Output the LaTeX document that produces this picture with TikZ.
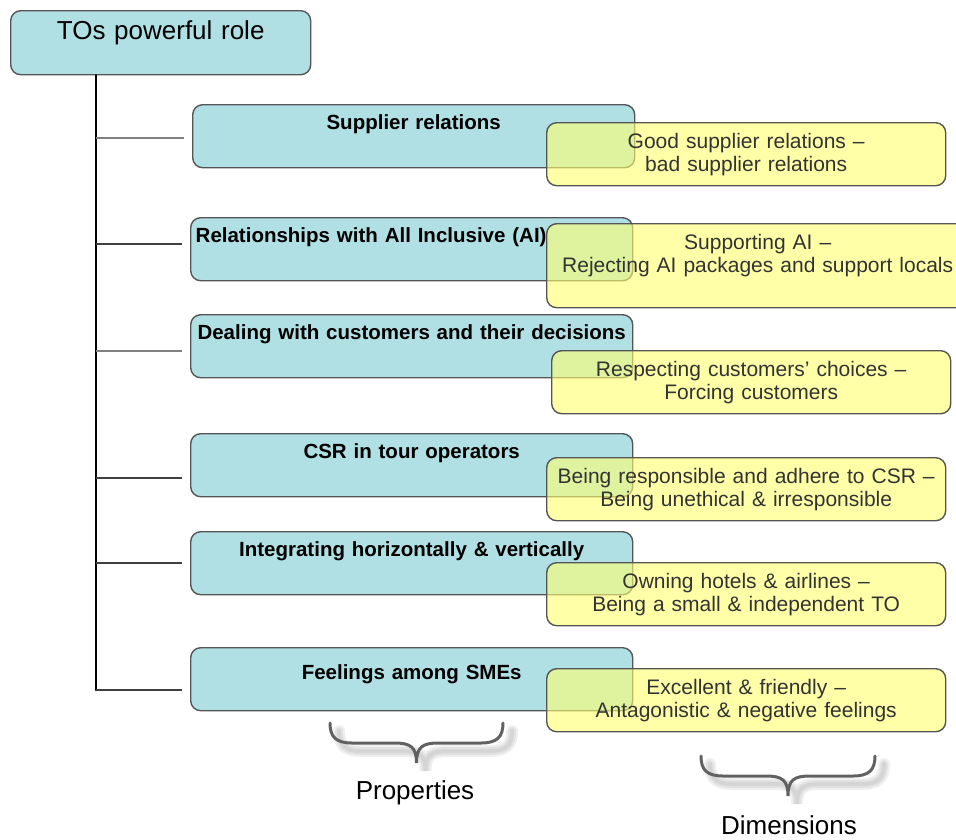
\documentclass[tikz,border=0pt]{standalone}
\usepackage{fontspec}
\setmainfont{Liberation Sans}
\usepackage{tikz}
\definecolor{boxblue}{RGB}{176,224,228}
\definecolor{boxyellow}{RGB}{255,255,110}
\definecolor{edgegray}{RGB}{85,85,85}

% brace opening downwards: left x, right x, top y
\newcommand{\bracepath}[3]{%
  (#1,#3) .. controls (#1,#3+14) and (#1+6,#3+20) .. (#1+22,#3+20)
  -- ({(#1+#2)/2-22},#3+20)
  .. controls ({(#1+#2)/2-6},#3+20) and ({(#1+#2)/2},#3+24) .. ({(#1+#2)/2},#3+40)
  .. controls ({(#1+#2)/2},#3+24) and ({(#1+#2)/2+6},#3+20) .. ({(#1+#2)/2+22},#3+20)
  -- (#2-22,#3+20) .. controls (#2-6,#3+20) and (#2,#3+14) .. (#2,#3)}

\tikzset{
  rootbox/.style={draw=edgegray, line width=1.4pt, fill=boxblue,
    rounded corners=10pt, anchor=north west, inner sep=5pt,
    text width=290pt, align=center, text height=24pt, text depth=30pt,
    font=\fontsize{26}{30}\selectfont},
  propbox/.style={draw=edgegray, line width=1.4pt, fill=boxblue,
    rounded corners=10pt, anchor=north west, inner xsep=5pt, inner ysep=5pt,
    text width=432pt, align=center, text height=20pt, text depth=33pt,
    font=\fontsize{20.5}{23}\selectfont\bfseries},
  dimbox/.style={draw=edgegray, line width=1.4pt, fill=boxyellow,
    fill opacity=0.6, text opacity=1, rounded corners=10pt,
    anchor=north west, inner xsep=5pt, inner ysep=5.5pt,
    text width=389pt, align=center, text height=20pt, text depth=32pt,
    text=black!80, font=\fontsize{21}{23}\selectfont},
  branch/.style={line width=2.2pt, draw=black!75, shorten >=8pt},
  bracket/.style={line width=3pt, draw=black!62, line cap=round},
  bracketshadow/.style={line width=#1, draw=black, opacity=0.06,
    line cap=round, shift={(9,8)}},
  caption/.style={font=\fontsize{26}{30}\selectfont, inner sep=1pt}
}

\begin{document}
\begin{tikzpicture}[x=1pt, y=-1pt]
  \useasboundingbox (0,0) rectangle (956,839);
  \clip (0,0) rectangle (956,839);

  \node[rootbox] (root) at (10,10) {TOs powerful role};

  % properties
  \node[propbox] (s1) at (192,104) {Supplier relations};
  \node[propbox, align=left] (s2) at (190,217) {Relationships with All Inclusive (AI)};
  \node[propbox] (s3) at (190,314) {Dealing with customers and their decisions};
  \node[propbox] (s4) at (190,433) {CSR in tour operators};
  \node[propbox] (s5) at (190,531) {Integrating horizontally \& vertically};
  \node[propbox, text height=27pt, text depth=26pt] (s6) at (190,647) {Feelings among SMEs};

  \coordinate (b1) at (96,138);
  \coordinate (b2) at (96,244);
  \coordinate (b3) at (96,351);
  \coordinate (b4) at (96,478);
  \coordinate (b5) at (96,563);
  \coordinate (b6) at (96,690);

  \draw[line width=2.8pt, line cap=round] (root.south -| b1) -- (b6);
  \draw[branch, draw=black!50] (b1) -- (b1 -| s1.west);
  \draw[branch] (b2) -- (b2 -| s2.west);
  \draw[branch, draw=black!50] (b3) -- (b3 -| s3.west);
  \draw[branch] (b4) -- (b4 -| s4.west);
  \draw[branch] (b5) -- (b5 -| s5.west);
  \draw[branch] (b6) -- (b6 -| s6.west);

  % dimensions
  \node[dimbox] (d1) at (546,122) {Good supplier relations --\\bad supplier relations};
  \node[dimbox, text width=412pt, text depth=53pt] (d2) at (546,223) {Supporting AI --\\Rejecting AI packages and support locals};
  \node[dimbox] (d3) at (551,350) {Respecting customers' choices --\\Forcing customers};
  \node[dimbox] (d4) at (546,457) {Being responsible and adhere to CSR --\\Being unethical \& irresponsible};
  \node[dimbox] (d5) at (546,562) {Owning hotels \& airlines --\\Being a small \& independent TO};
  \node[dimbox] (d6) at (546,668) {Excellent \& friendly --\\Antagonistic \& negative feelings};

  \node[caption] (props) at (415,793) {Properties};
  \node[caption] (dims) at (789,825) {Dimensions};

  \foreach \w in {12pt,8pt,4pt}{
    \draw[bracketshadow=\w] \bracepath{330}{503}{723};
    \draw[bracketshadow=\w] \bracepath{701}{875}{756};
  }
  \draw[bracket] \bracepath{330}{503}{723};
  \draw[bracket] \bracepath{701}{875}{756};
\end{tikzpicture}
\end{document}
